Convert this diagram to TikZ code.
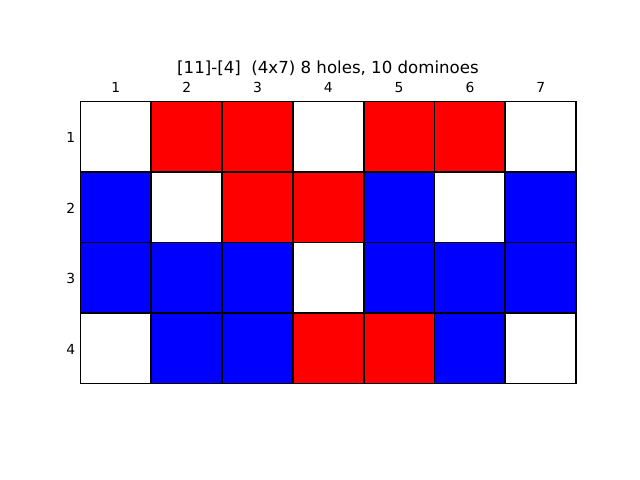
\documentclass[tikz,border=0pt]{standalone}
\usepackage{fontspec}
\setmainfont{DejaVu Sans}
\begin{document}
\begin{tikzpicture}[x=0.01in,y=-0.01in,
  cell/.style={draw=black,line width=1.3pt},
  tick/.style={font=\fontsize{10}{12}\selectfont,inner sep=0pt},
  ttl/.style={font=\fontsize{12}{14}\selectfont,inner sep=0pt}]
\useasboundingbox (0,0) rectangle (640,480);
\fill[white] (0,0) rectangle (640,480);
\def\cw{70.8}\def\ch{70.5}\def\xo{80.5}\def\yo{101.5}
\foreach \row/\col/\fc in {
  1/1/white,1/2/red,1/3/red,1/4/white,1/5/red,1/6/red,1/7/white,
  2/1/blue,2/2/white,2/3/red,2/4/red,2/5/blue,2/6/white,2/7/blue,
  3/1/blue,3/2/blue,3/3/blue,3/4/white,3/5/blue,3/6/blue,3/7/blue,
  4/1/white,4/2/blue,4/3/blue,4/4/red,4/5/red,4/6/blue,4/7/white}{
    \fill[\fc] ({\xo+(\col-1)*\cw},{\yo+(\row-1)*\ch}) rectangle ++(\cw,\ch);
}
\foreach \row in {1,...,4}{
  \foreach \col in {1,...,7}{
    \draw[cell] ({\xo+(\col-1)*\cw},{\yo+(\row-1)*\ch}) rectangle ++(\cw,\ch);
  }
}
\foreach \col in {1,...,7}{
  \node[tick,anchor=base] (t\col) at ({\xo+(\col-0.5)*\cw},93) {\col};
}
\foreach \row in {1,...,4}{
  \node[tick,anchor=east] (l\row) at (75.5,{\yo+(\row-0.5)*\ch+1}) {\row};
}
\node[ttl,anchor=base] (title) at (328,74) {[11]-[4]\ \ (4x7) 8 holes, 10 dominoes};
\end{tikzpicture}
\end{document}
